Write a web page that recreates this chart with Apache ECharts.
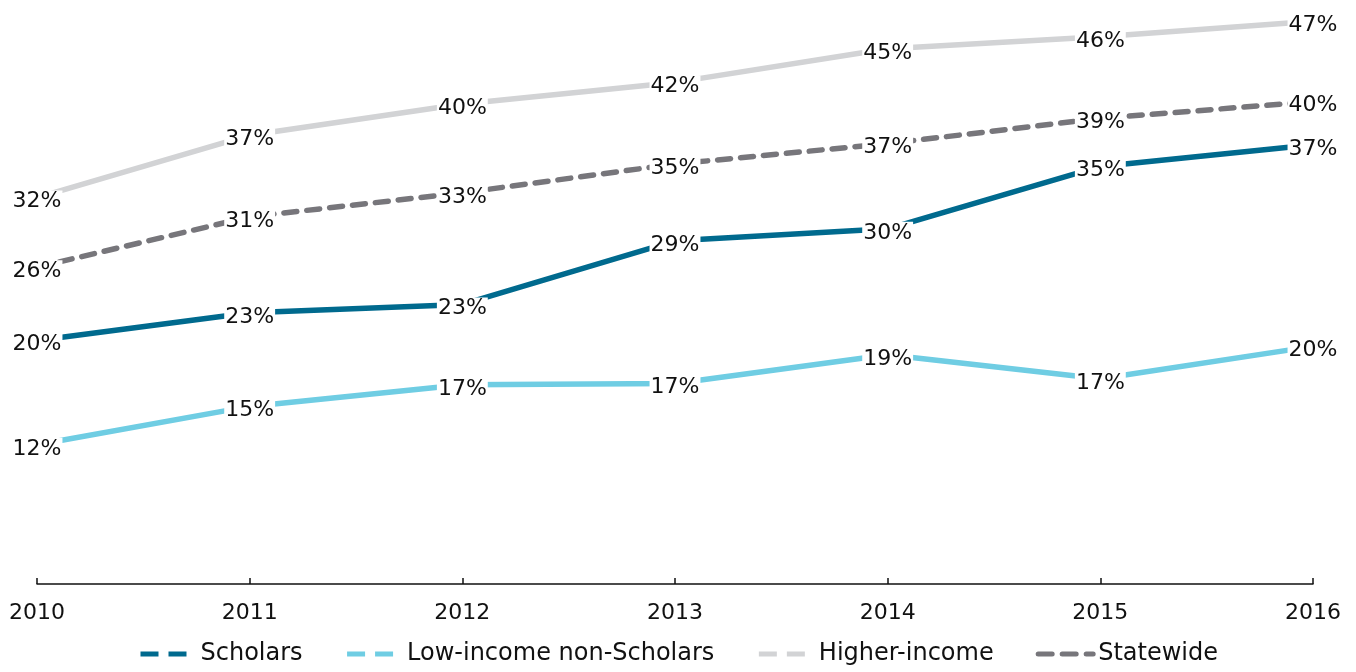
<!DOCTYPE html>
<html>
<head>
<meta charset="utf-8">
<script src="https://cdn.jsdelivr.net/npm/echarts@6/dist/echarts.min.js"></script>
<style>
  html, body { margin: 0; padding: 0; background: #fff; }
  #chart { width: 1356px; height: 672px; }
</style>
</head>
<body>
<div id="chart"></div>
<script>
// 横坐标年份
var years = ['2010', '2011', '2012', '2013', '2014', '2015', '2016']
// 各组数据（百分比）
var scholars = [20.3, 22.6, 23.3, 28.6, 29.6, 34.8, 36.6]
var lowIncome = [11.6, 14.8, 16.6, 16.7, 19.1, 17.1, 19.8]
var higherIncome = [32.2, 37.4, 40.0, 41.8, 44.6, 45.6, 46.9]
var statewide = [26.4, 30.6, 32.6, 35.0, 36.7, 38.8, 40.2]

var font = 'DejaVu Sans'
var colors = ['#006a8e', '#6fcde3', '#d2d3d5', '#77767b']

function makeSeries(name, data, color, dashed) {
  return {
    name: name,
    type: 'line',
    data: data,
    symbol: 'circle',
    symbolSize: 2,
    showSymbol: true,
    showAllSymbol: true,
    silent: true,
    itemStyle: { color: 'rgba(255,255,255,0)' }, // 点不显示，只保留标签
    lineStyle: {
      color: color,
      width: 5.5,
      type: dashed ? [13, 10] : 'solid',
      cap: dashed ? 'round' : 'butt'
    },
    label: {
      show: true,
      position: 'inside',
      offset: [0, 4],
      fontFamily: font,
      fontSize: 22,
      color: '#111',
      backgroundColor: '#fff', // 白底盖住折线
      padding: [0, 1],
      formatter: function(p) {
        return Math.round(p.value) + '%'
      }
    }
  }
}

var myChart = echarts.init(document.getElementById('chart'))
var option = {
  animation: false,
  color: colors,
  grid: {
    left: 37,
    right: 43,
    top: 8,
    bottom: 88,
    containLabel: false
  },
  legend: {
    bottom: 1,
    left: 'center',
    itemWidth: 55,
    itemHeight: 6,
    itemGap: 42,
    itemStyle: { opacity: 0 },
    lineStyle: { width: 5 },
    textStyle: {
      fontFamily: font,
      fontSize: 24,
      color: '#111'
    },
    data: [
      { name: 'Scholars', lineStyle: { type: [18, 10] } },
      { name: 'Low-income non-Scholars', lineStyle: { type: [18, 10] } },
      { name: 'Higher-income', lineStyle: { type: [18, 10] } },
      { name: 'Statewide', lineStyle: { type: [14, 10] } }
    ]
  },
  xAxis: {
    type: 'category',
    boundaryGap: false,
    data: years,
    axisLine: { lineStyle: { color: '#111', width: 1.5 } },
    axisTick: { inside: true, length: 6, lineStyle: { color: '#111', width: 1.5 } },
    axisLabel: {
      margin: 18,
      fontFamily: font,
      fontSize: 22,
      color: '#111'
    }
  },
  yAxis: {
    type: 'value',
    min: 0,
    max: 48,
    show: false,
    splitLine: { show: false }
  },
  series: [
    makeSeries('Scholars', scholars, colors[0], false),
    makeSeries('Low-income non-Scholars', lowIncome, colors[1], false),
    makeSeries('Higher-income', higherIncome, colors[2], false),
    makeSeries('Statewide', statewide, colors[3], true)
  ]
}
myChart.setOption(option)
</script>
</body>
</html>
